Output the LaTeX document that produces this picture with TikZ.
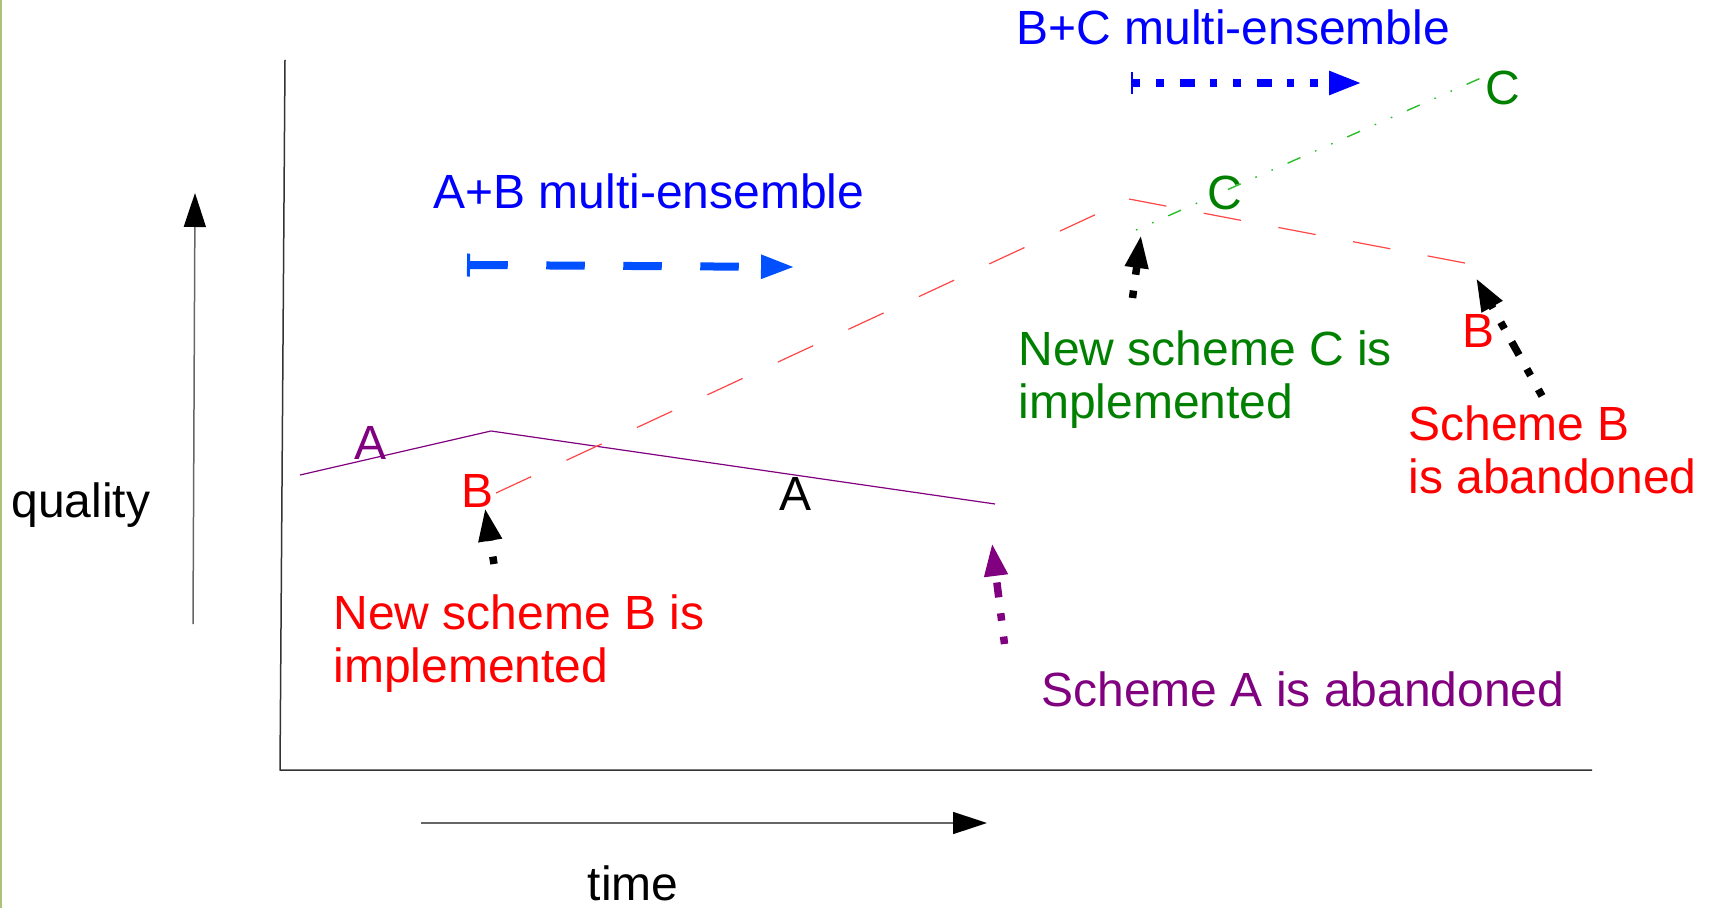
\documentclass[tikz,border=0pt]{standalone}
\usepackage{fontspec}
\setmainfont{Liberation Sans}
\usetikzlibrary{arrows.meta,positioning}
\definecolor{schemeA}{RGB}{128,0,128}
\definecolor{schemeB}{RGB}{255,0,0}
\definecolor{schemeC}{RGB}{0,128,0}
\definecolor{lineB}{RGB}{255,70,70}
\definecolor{lineC}{RGB}{40,190,40}
\definecolor{ensAB}{RGB}{0,80,255}
\definecolor{ensBC}{RGB}{0,0,255}
\definecolor{edgeline}{RGB}{170,195,120}

\begin{document}
\begin{tikzpicture}[x=0.5pt,y=-0.5pt,line join=round,
  txt/.style={font=\fontsize{24}{27}\selectfont,inner sep=0pt,anchor=base west},
  lbl/.style={font=\fontsize{24}{27}\selectfont,inner sep=0pt,anchor=base},
  axisline/.style={black!80,line width=0.75pt},
  axisarrow/.style={black!60,line width=0.75pt,-{Triangle[length=17pt,width=11pt,color=black]}},
  pointer/.style={line width=3.75pt,dash pattern=on 3.75pt off 8pt on 3.75pt off 8pt on 7.5pt off 7.5pt,
    -{Triangle[length=16.5pt,width=11pt]}}]
\path[use as bounding box] (0,0) rectangle (1716,908);
\draw[edgeline,line width=1pt] (1,0)--(1,908);

% axes
\coordinate (yTop) at (285,60);
\coordinate (origin) at (280,770);
\coordinate (xEnd) at (1592,770);
\draw[axisline] (yTop)--(origin)--(xEnd);
\coordinate (qFrom) at (193,624);
\coordinate (qTo) at (195,193);
\draw[axisarrow] (qFrom)--(qTo);
\coordinate (tFrom) at (421,823);
\coordinate (tTo) at (987,823);
\draw[axisarrow] (tFrom)--(tTo);
\node[txt] (quality) at (11,517) {quality};
\node[lbl] (time) at (633,900) {time};

% quality curves
\coordinate (aStart) at (300,475);
\coordinate (aPeak) at (491,431);
\coordinate (aEnd) at (995,504);
\draw[schemeA,line width=0.6pt] (aStart)--(aPeak)--(aEnd);
\coordinate (bStart) at (496,493);
\coordinate (bPeak) at (1129,199);
\coordinate (bEnd) at (1470,264);
\draw[lineB,line width=0.6pt,dash pattern=on 19.4pt off 19.45pt] (bStart)--(bPeak);
\draw[lineB,line width=0.6pt,dash pattern=on 19pt off 19pt] (bPeak)--(bEnd);
\coordinate (cStart) at (1136,230);
\coordinate (cEnd) at (1481,78);
\draw[lineC,line width=0.7pt,dash pattern=on 0.8pt off 8pt on 0.8pt off 8pt on 7pt off 8pt] (cStart)--(cEnd);

\node[lbl,text=schemeA] (labA1) at (371,459) {A};
\node[lbl,text=schemeB] (labB1) at (477,507) {B};
\node[lbl] (labA2) at (795,510) {A};
\node[lbl,text=schemeC] (labC1) at (1225,210) {C};
\node[lbl,text=schemeC] (labC2) at (1503,105) {C};
\node[lbl,text=schemeB] (labB2) at (1478,348) {B};

% multi-ensemble spans
\coordinate (abFrom) at (467,265);
\coordinate (abTo) at (795,267);
\draw[ensAB,line width=4pt,dash pattern=on 19.25pt off 19.25pt,
  {Bar[width=11.5pt,line width=1.5pt]}-{Triangle[length=17pt,width=11pt]}] (abFrom)--(abTo);
\node[txt,text=ensBC] (abText) at (433,209) {A+B multi-ensemble};
\coordinate (bcFrom) at (1131,83);
\coordinate (bcTo) at (1362,83);
\draw[ensBC,line width=4pt,dash pattern=on 3.75pt off 8pt on 3.75pt off 8pt on 7.5pt off 7.5pt,
  {Bar[width=11pt,line width=1pt]}-{Triangle[length=16.5pt,width=11pt]}] (bcFrom)--(bcTo);
\node[txt,text=ensBC] (bcText) at (1016,45) {B+C multi-ensemble};

% events
\node[txt,text=schemeB] (newB) at (333,629) {New scheme B is};
\node[txt,text=schemeB] (newB2) at ([yshift=-26.5pt]newB.base west) {implemented};
\coordinate (newBTail) at (494,564);
\coordinate (newBTip) at (485,508);
\draw[pointer,black] (newBTail)--(newBTip);

\node[txt,text=schemeA] (dropA) at (1041,706) {Scheme A is abandoned};
\coordinate (dropATail) at (1004.5,644);
\coordinate (dropATip) at (992,543);
\draw[pointer,schemeA] (dropATail)--(dropATip);

\node[txt,text=schemeC] (newC) at (1018,366) {New scheme C is};
\node[txt,text=schemeC] (newC2) at ([yshift=-26.5pt]newC.base west) {implemented};
\coordinate (newCTail) at (1132.5,298);
\coordinate (newCTip) at (1141,235);
\draw[pointer,black] (newCTail)--(newCTip);

\node[txt,text=schemeB] (dropB) at (1408,440) {Scheme B};
\node[txt,text=schemeB] (dropB2) at ([yshift=-26.5pt]dropB.base west) {is abandoned};
\coordinate (dropBTail) at (1542,396);
\coordinate (dropBTip) at (1476,278);
\draw[pointer,black] (dropBTail)--(dropBTip);
\end{tikzpicture}
\end{document}
